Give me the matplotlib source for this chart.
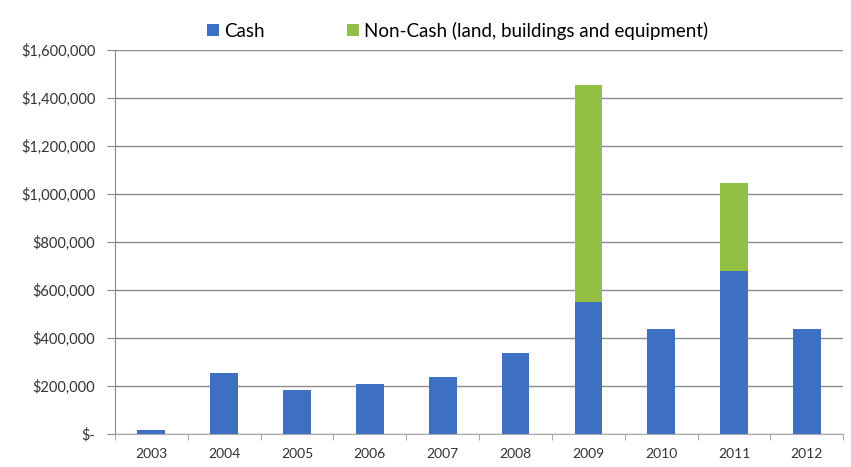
import matplotlib
matplotlib.use("Agg")
import matplotlib.pyplot as plt
import numpy as np
from matplotlib.ticker import FuncFormatter, FixedLocator

years = ["2003", "2004", "2005", "2006", "2007", "2008", "2009", "2010", "2011", "2012"]
cash = [15000, 254000, 184000, 207000, 239000, 336000, 551000, 437000, 680000, 436000]
non_cash = [0, 0, 0, 0, 0, 0, 903000, 0, 365000, 0]

plt.rcParams['font.family'] = ['Lato', 'DejaVu Sans']

fig = plt.figure(figsize=(8.51, 4.67), dpi=100)
ax = fig.add_axes([0.135, 0.071, 0.856, 0.822])

x = np.arange(len(years))
w = 0.38
blue = "#3d6fc2"
green = "#93bf45"
ax.bar(x, cash, width=w, color=blue, label="Cash", zorder=3)
ax.bar(x, non_cash, width=w, bottom=cash, color=green,
       label="Non-Cash (land, buildings and equipment)", zorder=3)

ax.set_xlim(-0.5, len(years) - 0.5)
ax.set_ylim(0, 1600000)
ax.set_yticks(np.arange(0, 1600001, 200000))

def fmt(v, pos):
    if v == 0:
        return "$-"
    return "${:,.0f}".format(v)

ax.yaxis.set_major_formatter(FuncFormatter(fmt))
ax.set_xticks(x)
ax.set_xticklabels(years)
ax.xaxis.set_minor_locator(FixedLocator(np.arange(-0.5, len(years), 1.0)))
ax.tick_params(axis='x', which='major', length=0, labelsize=10, colors="#333333", pad=10)
ax.tick_params(axis='x', which='minor', length=4, color="#999999", direction='out')
ax.tick_params(axis='y', length=6, color="#888888", labelsize=10.5, labelcolor="#333333", pad=8)

ax.grid(axis='y', color="#8c8c8c", linewidth=1.0, zorder=0)
for s in ["top", "right"]:
    ax.spines[s].set_visible(False)
ax.spines["left"].set_color("#888888")
ax.spines["bottom"].set_color("#aaaaaa")

fig.legend(loc="upper center", bbox_to_anchor=(0.538, 0.99), ncol=2, frameon=False,
           fontsize=13.5, handlelength=0.6, handleheight=0.6, handletextpad=0.3,
           columnspacing=4.4)

fig.savefig("out.png", dpi=100, facecolor="white")
